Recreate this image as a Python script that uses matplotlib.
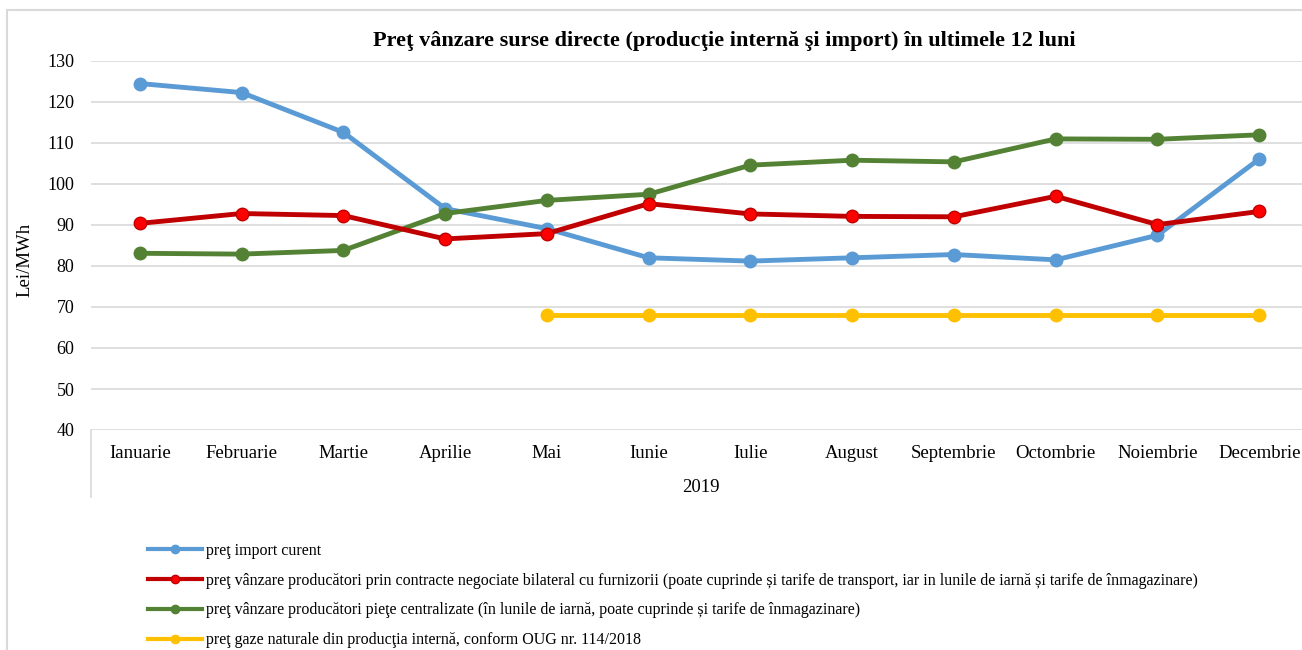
import matplotlib.pyplot as plt
from matplotlib.lines import Line2D
from matplotlib.patches import Rectangle

plt.rcParams["font.family"] = ["Liberation Serif", "DejaVu Serif"]

# -- data
months = ["Ianuarie", "Februarie", "Martie", "Aprilie", "Mai", "Iunie",
          "Iulie", "August", "Septembrie", "Octombrie", "Noiembrie", "Decembrie"]
year = "2019"
import_curent = [124.5, 122.3, 112.6, 94.0, 89.1, 82.0,
                 81.2, 82.0, 82.8, 81.5, 87.5, 106.1]
bilateral = [90.4, 92.8, 92.3, 86.6, 87.9, 95.2,
             92.7, 92.1, 92.0, 97.0, 90.1, 93.3]
centralizate = [83.1, 82.9, 83.8, 92.8, 96.0, 97.5,
                104.6, 105.8, 105.4, 111.0, 110.9, 112.0]
oug_months = months[4:]
oug = [68.0] * 8

labels = [
    "preţ import curent",
    "preţ vânzare producători prin contracte negociate bilateral cu furnizorii "
    "(poate cuprinde și tarife de transport, iar in lunile de iarnă și tarife de înmagazinare)",
    "preţ vânzare producători pieţe centralizate (în lunile de iarnă, poate cuprinde "
    "și tarife de înmagazinare)",
    "preţ gaze naturale din producţia internă, conform OUG nr. 114/2018",
]
title = "Preţ vânzare surse directe (producţie internă şi import) în ultimele 12 luni"

# -- plot
W, H = 1302, 650
fig = plt.figure(figsize=(W / 100, H / 100), dpi=100, facecolor="w")
ax = fig.add_axes([91 / W, 1 - 430 / H, (1302 - 91) / W, (430 - 61) / H])

xs = list(range(len(months)))
xo = xs[4:]
lw, ms = 3.5, 9
ax.plot(xs, import_curent, color="#5b9bd5", lw=lw, marker="o", ms=ms, zorder=3)
ax.plot(xs, bilateral, color="#c00000", lw=lw, marker="o", ms=ms,
        mfc="#ff0000", mec="#c00000", mew=1, zorder=4)
ax.plot(xs, centralizate, color="#548235", lw=lw, marker="o", ms=ms, zorder=3)
ax.plot(xo, oug, color="#ffc000", lw=lw, marker="o", ms=ms, zorder=3)

ax.set_xlim(-0.48, 11.42)
ax.set_ylim(40, 130)
ax.set_yticks(range(40, 131, 10))
ax.set_xticks(xs)
ax.set_xticklabels(months)
ax.grid(axis="y", color="#d9d9d9", lw=1.2)
ax.set_axisbelow(True)
for s in ax.spines.values():
    s.set_visible(False)
ax.tick_params(length=0, colors="#000000")
ax.tick_params(axis="x", pad=11, labelsize=13.5)
ax.tick_params(axis="y", pad=12, labelsize=13)

fig.text(25 / W, 1 - 260 / H, "Lei/MWh", rotation=90, ha="center",
         va="center", fontsize=13.5)
fig.text(701 / W, 1 - 487 / H, year, ha="center", va="center", fontsize=13.5)
fig.text(724 / W, 1 - 41 / H, title, ha="center", va="center",
         fontsize=16, fontweight="bold")

# category group divider
fig.add_artist(Line2D([91 / W, 91 / W], [1 - 430 / H, 1 - 497 / H],
                      color="#d9d9d9", lw=1.2))
# chart frame
fig.add_artist(Rectangle((7 / W, -0.01), 1.1, 1 - 10 / H + 0.01,
                         transform=fig.transFigure, fill=False,
                         ec="#d9d9d9", lw=1.5))

handles = [
    Line2D([], [], color="#5b9bd5", lw=3, marker="o", ms=6),
    Line2D([], [], color="#c00000", lw=3, marker="o", ms=6,
           mfc="#ff0000", mec="#c00000"),
    Line2D([], [], color="#548235", lw=3, marker="o", ms=6),
    Line2D([], [], color="#ffc000", lw=3, marker="o", ms=6),
]
fig.legend(handles, labels, loc="upper left",
           bbox_to_anchor=(148 / W, 1 - 543 / H), frameon=False,
           fontsize=11.5, handlelength=3.4, handletextpad=0.25,
           labelspacing=0.86, borderpad=0, borderaxespad=0)

fig.savefig("out.png", dpi=100)
